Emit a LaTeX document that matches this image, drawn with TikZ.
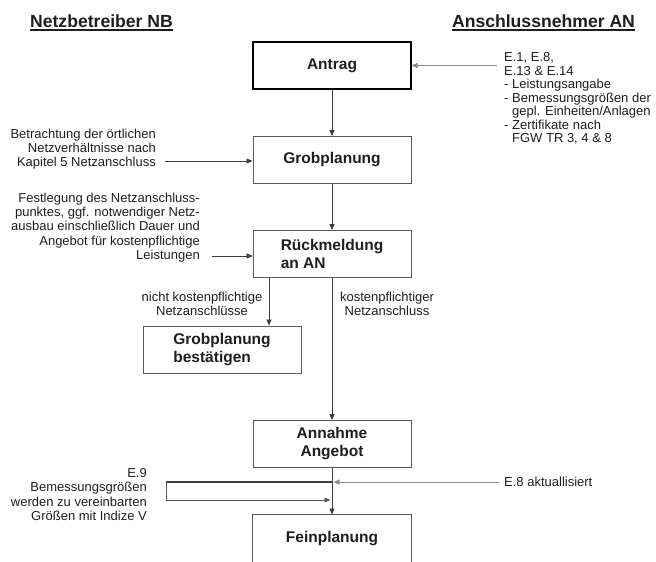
\documentclass[tikz,border=0pt]{standalone}
\usepackage{fontspec}
\setmainfont{Liberation Sans}
\usetikzlibrary{arrows.meta}
\definecolor{boxgray}{HTML}{5A5A5A}
\definecolor{lngray}{HTML}{3C3C3C}
\definecolor{ingray}{HTML}{8C8C8C}
\definecolor{txt}{HTML}{1E1E1E}
\begin{document}
\begin{tikzpicture}[x=1pt,y=-1pt,
  hdr/.style={inner sep=0pt, text=txt, font=\fontsize{17.6}{20}\selectfont\bfseries},
  box/.style={draw=boxgray, line width=0.9pt, minimum width=158pt, minimum height=47pt,
    inner sep=0pt, text=txt, font=\fontsize{15.5}{18}\selectfont\bfseries, align=center},
  boxl/.style={box, align=left},
  note/.style={inner sep=0pt, text=txt, font=\fontsize{13}{14.2}\selectfont},
  arr/.style={draw=lngray, line width=0.8pt, -{Triangle[length=6pt,width=5pt]}},
  inarr/.style={draw=ingray, line width=0.9pt, -{Triangle[length=6pt,width=5pt]}},
  plain/.style={draw=lngray, line width=0.8pt}
]
\useasboundingbox (0,0) rectangle (656,562);
\clip (0,0) rectangle (656,562);

% headers
\node[hdr] (nb) at (101.5,21) {Netzbetreiber NB};
\node[hdr] (an) at (543.5,21) {Anschlussnehmer AN};
\draw[txt, line width=1.3pt] ([yshift=-2.8pt]nb.base west) -- ([yshift=-2.8pt]nb.base east);
\draw[txt, line width=1.3pt] ([yshift=-2.8pt]an.base west) -- ([yshift=-2.8pt]an.base east);

% boxes
\node[box, draw=black, line width=1.1pt] (antrag) at (332,65.5) {Antrag};
\node[box] (grob) at (332,160) {Grobplanung};
\node[boxl] (rueck) at (332,254) {Rückmeldung\\an AN};
\node[boxl] (best) at (222,349.5) {Grobplanung\\bestätigen};
\node[box] (annahme) at (332,444) {Annahme\\Angebot};
\node[box, draw=none] (fein) at (332,538.5) {Feinplanung};
\draw[boxgray, line width=0.9pt] (fein.south west) -- (fein.north west) -- (fein.north east) -- (fein.south east);

% notes
\node[note, font=\fontsize{13}{13.5}\selectfont, anchor=west, align=left] (e1) at (504,98.5) {E.1, E.8,\\E.13 \& E.14\\- Leistungsangabe\\- Bemessungsgrößen der\\\phantom{- }gepl. Einheiten/Anlagen\\- Zertifikate nach\\\phantom{- }FGW TR 3, 4 \& 8};
\node[note, anchor=east, align=right] (betr) at (156,149) {Betrachtung der örtlichen\\Netzverhältnisse nach\\Kapitel 5 Netzanschluss};
\node[note, anchor=east, align=right] (fest) at (200,227.5) {Festlegung des Netzanschluss-\\punktes, ggf. notwendiger Netz-\\ausbau einschließlich Dauer und\\Angebot für kostenpflichtige\\Leistungen};
\node[note, align=center] (nk) at (202,303.5) {nicht kostenpflichtige\\Netzanschlüsse};
\node[note, align=center] (kp) at (387,303.5) {kostenpflichtiger\\Netzanschluss};
\node[note, anchor=east, align=right] (e9) at (147,494.5) {E.9\\Bemessungsgrößen\\werden zu vereinbarten\\Größen mit Indize V};
\node[note, anchor=west] (e8) at (504,482) {E.8 aktuallisiert};

% free ends
\coordinate (e1s) at (497,65.5);
\coordinate (betrs) at (165,161);
\coordinate (fests) at (212,256);
\coordinate (e8s) at (499,482);
\coordinate (j1) at (332,482);
\coordinate (j2) at (332,500);
\coordinate (lpa) at (166,482);
\coordinate (lpb) at (166,500);

% connectors
\draw[arr] (antrag) -- (grob);
\draw[arr] (grob) -- (rueck);
\draw[arr] ([xshift=-63pt]rueck.south) -- ([xshift=-63pt]rueck.south |- best.north);
\draw[arr] (rueck) -- (annahme);
\draw[arr] (annahme) -- (fein.north);
\draw[inarr] (e1s) -- (antrag.east);
\draw[arr] (betrs) -- (betrs -| grob.west);
\draw[arr] (fests) -- (fests -| rueck.west);
\draw[inarr] (e8s) -- ([xshift=1.5pt]j1);
\draw[lngray, line width=1.1pt] (j1) -- (lpa);
\draw[draw=boxgray, line width=0.8pt, -{Triangle[length=6pt,width=5pt]}] (lpa) -- (lpb) -- ([xshift=-1.5pt]j2);
\end{tikzpicture}
\end{document}
